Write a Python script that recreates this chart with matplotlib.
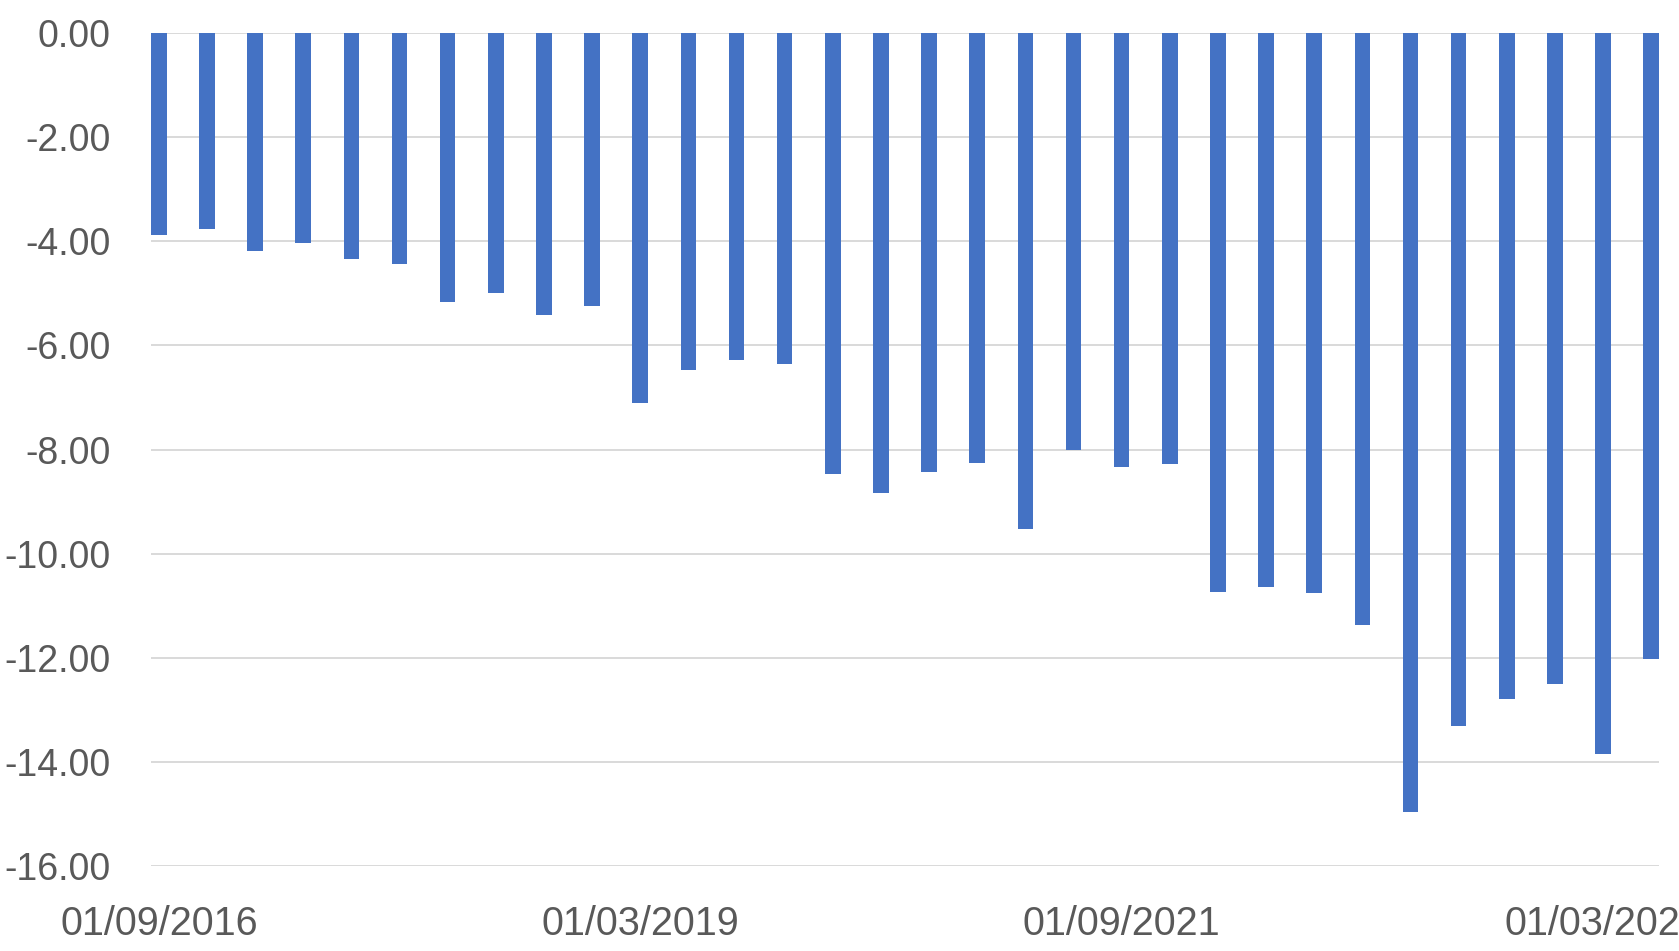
import matplotlib
matplotlib.use("Agg")
import matplotlib.pyplot as plt

# Quarterly dates (one per bar)
dates = [
    "01/09/2016", "01/12/2016", "01/03/2017", "01/06/2017",
    "01/09/2017", "01/12/2017", "01/03/2018", "01/06/2018",
    "01/09/2018", "01/12/2018", "01/03/2019", "01/06/2019",
    "01/09/2019", "01/12/2019", "01/03/2020", "01/06/2020",
    "01/09/2020", "01/12/2020", "01/03/2021", "01/06/2021",
    "01/09/2021", "01/12/2021", "01/03/2022", "01/06/2022",
    "01/09/2022", "01/12/2022", "01/03/2023", "01/06/2023",
    "01/09/2023", "01/12/2023", "01/03/2024", "01/06/2024",
]

values = [
    -3.87, -3.77, -4.18, -4.04, -4.34, -4.43, -5.17, -4.99,
    -5.41, -5.24, -7.11, -6.47, -6.28, -6.35, -8.48, -8.83,
    -8.43, -8.26, -9.53, -8.00, -8.33, -8.28, -10.74, -10.65,
    -10.76, -11.38, -14.97, -13.31, -12.79, -12.51, -13.85, -12.02,
]

tick_labels = ["01/09/2016", "01/03/2019", "01/09/2021", "01/03/2024"]
y_ticks = [0, -2, -4, -6, -8, -10, -12, -14, -16]

plt.rcParams['font.family'] = ['Liberation Sans', 'DejaVu Sans']

fig = plt.figure(figsize=(16.79, 9.51), dpi=100)
ax = fig.add_axes([151 / 1679, 1 - 865.7 / 951, (1659 - 151) / 1679, (865.7 - 33.3) / 951])

x = list(range(len(values)))
bw = 0.325
ax.bar(x, values, width=bw, color="#4472C4", zorder=3)

ax.set_xlim(-bw / 2, len(values) - 1 + bw / 2)
ax.set_ylim(-16, 0)

ax.set_yticks(y_ticks)
ax.set_yticklabels([f"{v:.2f}" for v in y_ticks])
tick_pos = [dates.index(t) for t in tick_labels]
ax.set_xticks(tick_pos)
ax.set_xticklabels(tick_labels)

ax.grid(axis="y", color="#d9d9d9", linewidth=1.4, zorder=0)
ax.grid(axis="x", visible=False)
for s in ax.spines.values():
    s.set_visible(False)

ax.tick_params(axis="y", length=0, pad=29, labelsize=27, labelcolor="#595959")
ax.tick_params(axis="x", length=0, pad=28, labelsize=28.5, labelcolor="#595959")

fig.savefig("out.png", dpi=100)
